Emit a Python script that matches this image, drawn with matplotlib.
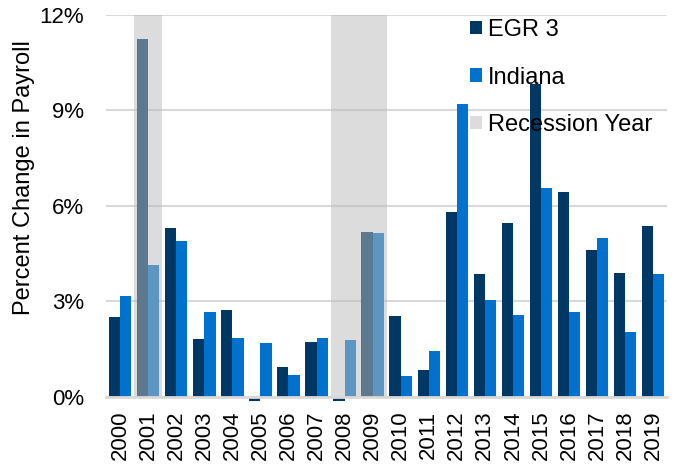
import matplotlib.pyplot as plt
import numpy as np

plt.rcParams['font.family'] = ['Liberation Sans', 'DejaVu Sans']

years = [str(y) for y in range(2000, 2020)]
egr3 = [2.50, 11.25, 5.31, 1.82, 2.72, -0.12, 0.93, 1.72, -0.12, 5.19,
        2.54, 0.83, 5.80, 3.85, 5.46, 9.84, 6.43, 4.60, 3.89, 5.38]
indiana = [3.17, 4.14, 4.90, 2.66, 1.84, 1.68, 0.70, 1.86, 1.80, 5.15,
           0.66, 1.44, 9.21, 3.04, 2.57, 6.55, 2.67, 4.99, 2.03, 3.87]
recession_years = ["2001", "2008", "2009"]

fig = plt.figure(figsize=(6.76, 4.68), dpi=100)
ax = fig.add_axes([0.157, 0.152, 0.830, 0.816])

x = np.arange(len(years))
w = 0.40
b1 = ax.bar(x - w / 2, egr3, w, color="#003865", label="EGR 3", zorder=2, clip_on=False)
b2 = ax.bar(x + w / 2, indiana, w, color="#0072ce", label="Indiana", zorder=2, clip_on=False)

# recession shading sits on top of the bars, like the original
spans = []
for yr in recession_years:
    i = years.index(yr)
    spans.append(ax.axvspan(i - 0.5, i + 0.5, color="#bababa", alpha=0.5,
                            lw=0, zorder=3, label="Recession Year"))

ax.set_xlim(-0.5, len(years) - 0.5)
ax.set_ylim(0, 12)
ax.set_yticks([0, 3, 6, 9, 12])
ax.set_yticklabels(["0%", "3%", "6%", "9%", "12%"])
ax.set_xticks(x)
ax.set_xticklabels(years, rotation=90)
ax.tick_params(axis="both", labelsize=16, length=0)
ax.tick_params(axis="y", pad=16)
ax.tick_params(axis="x", pad=10)

ax.grid(axis="y", color="#d9d9d9", lw=1.5, zorder=0)
ax.set_axisbelow(True)
for s in ["top", "right", "left"]:
    ax.spines[s].set_visible(False)
ax.spines["bottom"].set_color("#d9d9d9")
ax.spines["bottom"].set_linewidth(2)
ax.spines["bottom"].set_zorder(4)

ax.set_ylabel("Percent Change in Payroll", fontsize=17)
ax.yaxis.set_label_coords(-0.126, 0.573)

fig.legend([b1, b2, spans[0]], ["EGR 3", "Indiana", "Recession Year"],
           loc="upper left", bbox_to_anchor=(470 / 676, 1 - 19 / 468),
           frameon=False, fontsize=17, borderpad=0, borderaxespad=0,
           handlelength=0.51, handleheight=0.51, handletextpad=0.25,
           labelspacing=1.08)

fig.savefig("out.png", dpi=100)
